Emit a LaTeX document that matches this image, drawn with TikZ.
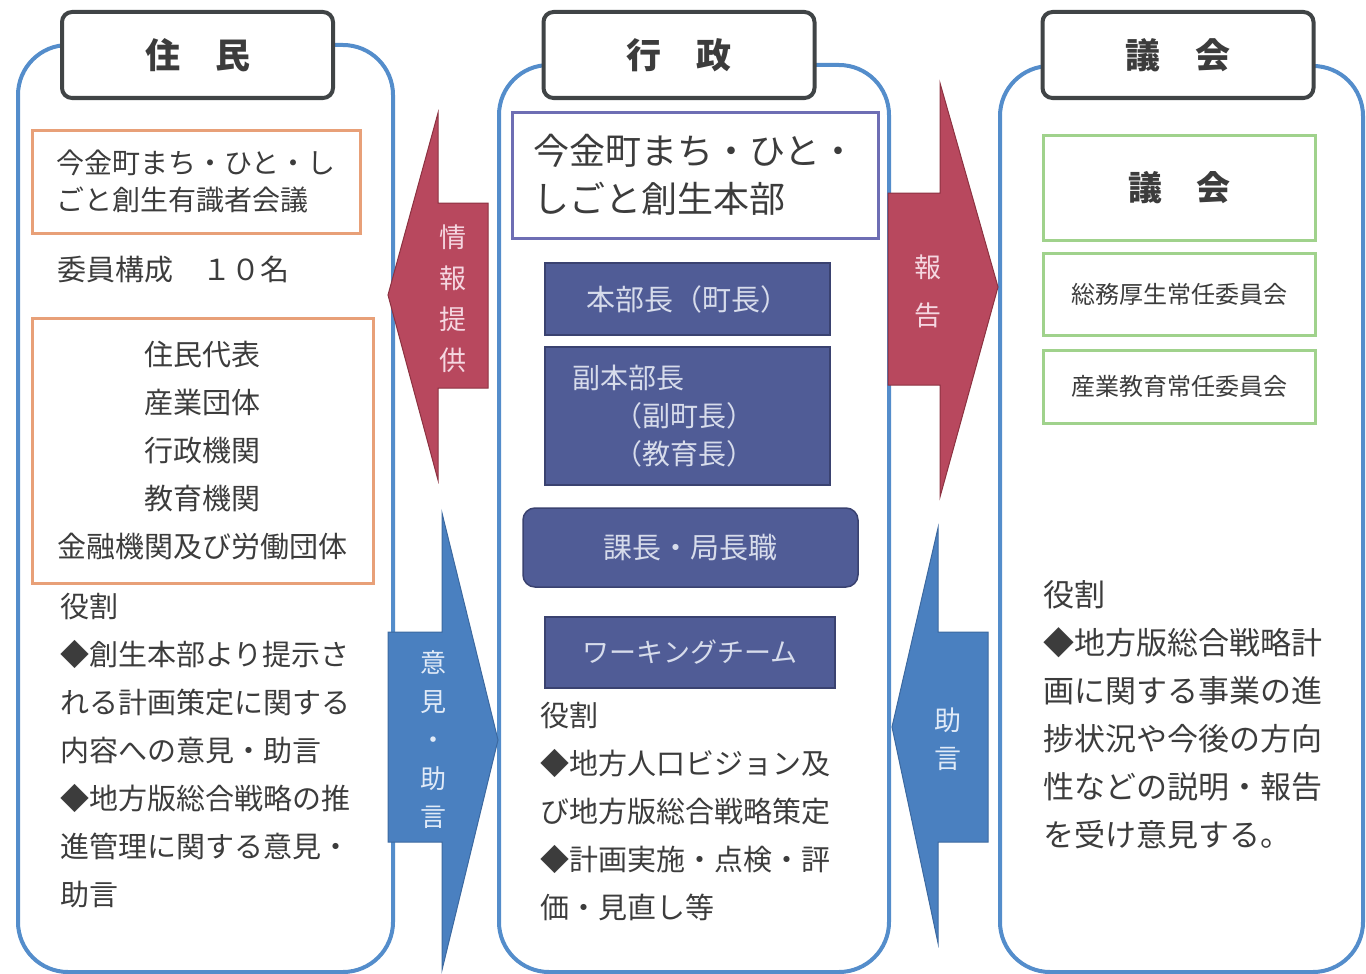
\documentclass[tikz,border=0pt]{standalone}
\usepackage{fontspec}
\setmainfont{Noto Sans CJK JP}
\usetikzlibrary{positioning}
\definecolor{colblue}{RGB}{84,141,203}
\definecolor{headgray}{RGB}{64,68,70}
\definecolor{txtgray}{RGB}{60,60,60}
\definecolor{orangeline}{RGB}{232,160,120}
\definecolor{indigoline}{RGB}{110,110,180}
\definecolor{navyfill}{RGB}{80,92,150}
\definecolor{navyline}{RGB}{58,66,112}
\definecolor{navytext}{RGB}{215,220,235}
\definecolor{redfill}{RGB}{184,72,94}
\definecolor{redline}{RGB}{140,50,65}
\definecolor{pinktext}{RGB}{245,215,225}
\definecolor{bluefill}{RGB}{74,128,192}
\definecolor{blueline}{RGB}{60,105,160}
\definecolor{paletext}{RGB}{225,235,248}
\definecolor{greenline}{RGB}{160,210,140}
\newcommand{\jfs}[2]{\fontsize{#1}{#2}\selectfont}

\begin{document}
\begin{tikzpicture}[x=1pt,y=-1pt,text=txtgray,
                    colframe/.style={draw=colblue,line width=4pt,rounded corners=50pt},
                    headbox/.style={draw=headgray,line width=4pt,fill=white,rounded corners=10pt,
                      minimum width=271pt,minimum height=86pt,font=\jfs{35}{35}\bfseries},
                    orangebox/.style={draw=orangeline,line width=3pt,inner sep=0pt},
                    indigobox/.style={draw=indigoline,line width=3pt,inner sep=0pt},
                    navybox/.style={draw=navyline,line width=1.5pt,fill=navyfill,text=navytext,
                      inner sep=0pt,font=\jfs{29}{29}},
                    greenbox/.style={draw=greenline,line width=3pt,minimum width=272pt,inner sep=0pt},
                    roletext/.style={anchor=north west,align=left,inner sep=0pt,font=\jfs{29}{48}},
                    redarrow/.style={fill=redfill,draw=redline,line width=1pt},
                    bluearrow/.style={fill=bluefill,draw=blueline,line width=1pt},
                    arrowtext/.style={align=center,inner sep=0pt}]

  \useasboundingbox (0,0) rectangle (1366,974);

  \draw[colframe] (18,45) rectangle (393,972);
  \draw[colframe] (499,65) rectangle (889,972);
  \draw[colframe] (1000,66) rectangle (1363,972);

  \node[headbox] (jumin)  at (197.5,55) {住　民};
  \node[headbox] (gyosei) at (679,55)   {行　政};
  \node[headbox] (gikai)  at (1178,55)  {議　会};

  \node[orangebox,minimum width=328pt,minimum height=103pt,align=left,font=\jfs{28}{37}]
    (yushiki) at (196,181.5) {今金町まち・ひと・し\\ごと創生有識者会議};
  \node[anchor=west,inner sep=0pt,font=\jfs{29}{29}] (iin) at (57,270) {委員構成　１０名};
  \node[orangebox,minimum width=341pt,minimum height=265pt,align=center,font=\jfs{29}{48}]
    (kosei) at (202.5,450.5) {住民代表\\産業団体\\行政機関\\教育機関\\金融機関及び労働団体};
  \node[roletext] (yakuL) at (60,593) {役割\\◆創生本部より提示さ\\れる計画策定に関する\\内容への意見・助言\\◆地方版総合戦略の推\\進管理に関する意見・\\助言};

  \node[indigobox,minimum width=366pt,minimum height=126pt,align=left,font=\jfs{36}{48}]
    (honbu) at (695,175) {今金町まち・ひと・\\しごと創生本部};
  \node[navybox,minimum width=285pt,minimum height=72pt] (honbucho) at (687.5,299) {本部長（町長）};
  \node[navybox,text width=231pt,inner xsep=27pt,minimum height=138pt,align=left,font=\jfs{28}{38}]
    (fuku) at (687.5,416) {副本部長\\\hspace*{1.5em}（副町長）\\\hspace*{1.5em}（教育長）};
  \node[navybox,rounded corners=12pt,minimum width=335pt,minimum height=79pt] (kacho) at (690.5,547.5) {課長・局長職};
  \node[navybox,minimum width=290pt,minimum height=71pt,font=\jfs{27}{27}] (wt) at (690,652.5) {ワーキングチーム};
  \node[roletext] (yakuM) at (540,702) {役割\\◆地方人口ビジョン及\\び地方版総合戦略策定\\◆計画実施・点検・評\\価・見直し等};

  \node[greenbox,minimum height=105pt,font=\jfs{34}{34}\bfseries] (giin) at (1179,187.5) {議　会};
  \node[greenbox,minimum height=82pt,font=\jfs{24}{24}] (somu) [below=10pt of giin] {総務厚生常任委員会};
  \node[greenbox,minimum height=73pt,font=\jfs{24}{24}] (sangyo) [below=12pt of somu] {産業教育常任委員会};
  \node[roletext,font=\jfs{31}{48}] (yakuR) at (1043,580) {役割\\◆地方版総合戦略計\\画に関する事業の進\\捗状況や今後の方向\\性などの説明・報告\\を受け意見する。};

  \filldraw[redarrow] (388,295) -- (438,113) -- (438,203) -- (488,203) -- (488,388) -- (438,388) -- (438,480) -- cycle;
  \filldraw[bluearrow] (388,632) -- (442,632) -- (442,513) -- (498,740) -- (442,970) -- (442,842) -- (388,842) -- cycle;
  \filldraw[redarrow] (888,193) -- (940,193) -- (940,83) -- (998,287) -- (940,497) -- (940,385) -- (888,385) -- cycle;
  \filldraw[bluearrow] (892,727) -- (938,528) -- (938,632) -- (988,632) -- (988,842) -- (938,842) -- (938,943) -- cycle;

  \node[arrowtext,text=pinktext,font=\jfs{27}{41}] (joho)   at (453,299) {情\\報\\提\\供};
  \node[arrowtext,text=paletext,font=\jfs{26}{38.5}] (iken) at (433,740) {意\\見\\・\\助\\言};
  \node[arrowtext,text=pinktext,font=\jfs{27}{48}] (hokoku) at (928,291) {報\\告};
  \node[arrowtext,text=paletext,font=\jfs{27}{38}] (jogen)  at (948,739) {助\\言};

\end{tikzpicture}
\end{document}
